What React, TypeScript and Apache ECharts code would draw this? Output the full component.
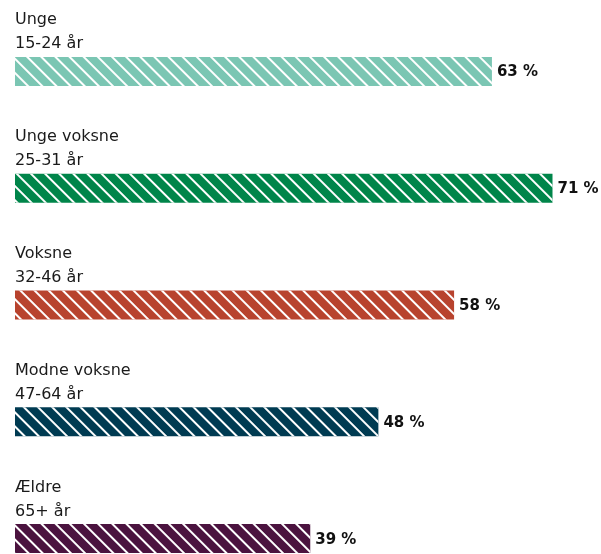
import React, { useEffect, useRef } from "react";
import * as echarts from "echarts";

const categories = [
  "Unge\n15-24 år",
  "Unge voksne\n25-31 år",
  "Voksne\n32-46 år",
  "Modne voksne\n47-64 år",
  "Ældre\n65+ år",
];
const values = [63, 71, 58, 48, 39];
const colors = ["#7BC6B3", "#00854A", "#B8432E", "#003B52", "#4B133F"];

export default function App() {
  const ref = useRef<HTMLDivElement>(null);
  useEffect(() => {
    if (!ref.current) return;
    const chart = echarts.init(ref.current, null, { renderer: "svg" });
    const font = "DejaVu Sans";
    chart.setOption({
      animation: false,
      aria: { enabled: true, decal: { show: true } },
      grid: { left: 15, width: 537.5, top: 13, height: 584 },
      xAxis: { type: "value", min: 0, max: 71, show: false },
      yAxis: { type: "category", data: categories, inverse: true, show: false },
      series: [
        {
          type: "bar",
          barWidth: 29,
          data: values.map((v, i) => ({
            value: v,
            itemStyle: {
              color: colors[i],
              decal: {
                symbol: "rect",
                symbolSize: 1,
                color: "#ffffff",
                dashArrayX: [1, 0],
                dashArrayY: [2, 7.6],
                rotation: Math.PI / 4,
              },
            },
          })),
          label: {
            show: true,
            position: "right",
            distance: 5,
            formatter: "{c} %",
            fontFamily: font,
            fontWeight: "bold",
            fontSize: 15,
            color: "#111111",
          },
        },
        {
          type: "bar",
          barWidth: 29,
          barGap: "-100%",
          silent: true,
          itemStyle: { color: "rgba(0,0,0,0)", decal: { color: "rgba(0,0,0,0)", symbol: "none" } },
          data: values,
          label: {
            show: true,
            position: [0, -50],
            formatter: "{b}",
            fontFamily: font,
            fontSize: 16,
            lineHeight: 24,
            color: "#1a1a1a",
            align: "left",
            verticalAlign: "top",
          },
        },
      ],
    });
    return () => chart.dispose();
  }, []);
  return (
    <div style={{ position: "fixed", left: 0, top: 0, width: 601, height: 554, overflow: "hidden" }}>
      <div ref={ref} style={{ width: 601, height: 640 }} />
    </div>
  );
}
